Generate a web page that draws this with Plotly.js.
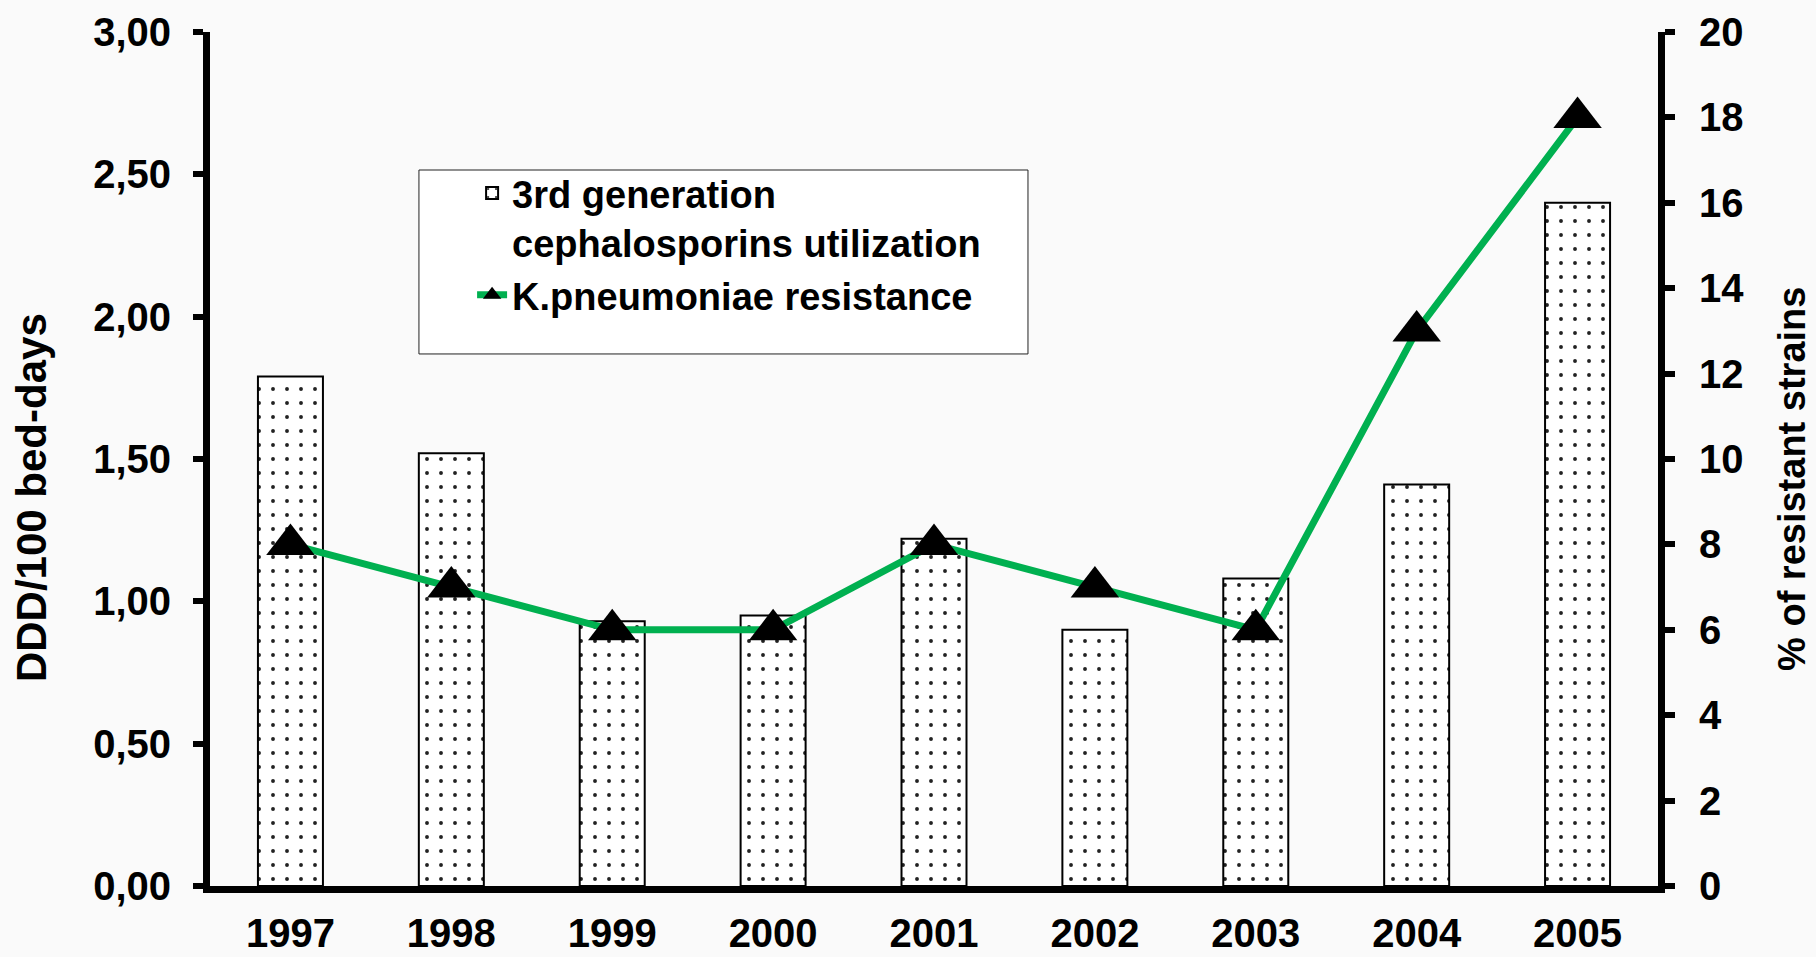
<!DOCTYPE html>
<html>
<head>
<meta charset="utf-8">
<script src="https://cdn.plot.ly/plotly-3.0.1.min.js"></script>
<style>
  html, body { margin: 0; padding: 0; background: #fafafa; }
  #chart { width: 1816px; height: 957px; }
</style>
</head>
<body>
<div id="chart"></div>
<script>
// ---- data ----
const years = ['1997', '1998', '1999', '2000', '2001', '2002', '2003', '2004', '2005'];
const utilization = [1.79, 1.52, 0.93, 0.95, 1.22, 0.90, 1.08, 1.41, 2.40]; // DDD/100 bed-days
const resistance = [8, 7, 6, 6, 8, 7, 6, 13, 18];                          // % of resistant strains
const barName = '3rd generation<br>cephalosporins utilization';
const lineName = 'K.pneumoniae resistance';
const leftTitle = 'DDD/100 bed-days';
const rightTitle = '% of resistant strains';

const FONT = 'Liberation Sans, Arial, Helvetica, sans-serif';
const GREEN = '#00B050';

const traces = [
  {
    type: 'bar',
    name: barName,
    x: years,
    y: utilization,
    xaxis: 'x',
    yaxis: 'y',
    marker: {
      color: '#ffffff',
      line: { color: '#000000', width: 2 },
      pattern: { shape: '.', fgcolor: '#222222', bgcolor: '#ffffff', size: 14, solidity: 0.06 }
    },
    hoverinfo: 'x+y'
  },
  {
    type: 'scatter',
    mode: 'lines+markers',
    name: lineName,
    x: years,
    y: resistance,
    xaxis: 'x',
    yaxis: 'y2',
    line: { color: GREEN, width: 7 },
    marker: { symbol: 'triangle-up', size: 42, color: '#000000' },
    cliponaxis: false
  }
];

const tickFont = { family: FONT, size: 40, color: '#000000', weight: 'bold' };

const layout = {
  width: 1816,
  height: 957,
  margin: { l: 210, r: 158, t: 32, b: 71, pad: 0 },
  paper_bgcolor: '#fafafa',
  plot_bgcolor: 'rgba(0,0,0,0)',
  separators: ',.',
  font: { family: FONT, color: '#000000' },
  bargap: 0.596,
  showlegend: true,
  legend: {
    x: 0.181, y: 0.848, xanchor: 'left', yanchor: 'top',
    bgcolor: 'rgba(0,0,0,0)', borderwidth: 0,
    font: { family: FONT, size: 38, color: '#000000', weight: 'bold' },
    valign: 'top',
    traceorder: 'normal'
  },
  xaxis: {
    type: 'category',
    range: [-0.5, 8.5],
    showline: true, linecolor: '#000000', linewidth: 7,
    ticks: '', showgrid: false, zeroline: false,
    tickfont: tickFont,
    ticklabelstandoff: 6
  },
  yaxis: {
    range: [0, 3], tick0: 0, dtick: 0.5, tickformat: '.2f',
    showline: true, linecolor: '#000000', linewidth: 7,
    ticks: 'outside', ticklen: 10, tickwidth: 6, tickcolor: '#000000',
    showgrid: false, zeroline: false,
    tickfont: tickFont,
    ticklabelstandoff: 14
  },
  yaxis3: {
    overlaying: 'y', side: 'left', anchor: 'x',
    range: [0, 3], tick0: 0, dtick: 0.5,
    showline: false, ticks: 'inside', ticklen: 13, tickwidth: 6, tickcolor: '#000000',
    showticklabels: false, showgrid: false, zeroline: false
  },
  yaxis2: {
    overlaying: 'y', side: 'right', anchor: 'x',
    range: [0, 20], tick0: 0, dtick: 2,
    showline: true, linecolor: '#000000', linewidth: 7,
    ticks: 'outside', ticklen: 10, tickwidth: 6, tickcolor: '#000000',
    showgrid: false, zeroline: false,
    tickfont: tickFont,
    ticklabelstandoff: 16
  },
  yaxis4: {
    overlaying: 'y', side: 'right', anchor: 'x',
    range: [0, 20], tick0: 0, dtick: 2,
    showline: false, ticks: 'inside', ticklen: 13, tickwidth: 6, tickcolor: '#000000',
    showticklabels: false, showgrid: false, zeroline: false
  },
  shapes: [
    { type: 'rect', xref: 'paper', yref: 'paper', x0: 0.1443, x1: 0.5649, y0: 0.6230, y1: 0.8384,
      fillcolor: '#ffffff', line: { color: '#222222', width: 1 }, layer: 'below' }
  ],
  annotations: [
    { text: leftTitle, xref: 'paper', yref: 'paper', x: -0.1236, y: 0.4543,
      xanchor: 'center', yanchor: 'middle', textangle: -90, showarrow: false,
      font: { family: FONT, size: 42, color: '#000000', weight: 'bold' } },
    { text: rightTitle, xref: 'paper', yref: 'paper', x: 1.0925, y: 0.4766,
      xanchor: 'center', yanchor: 'middle', textangle: -90, showarrow: false,
      font: { family: FONT, size: 38, color: '#000000', weight: 'bold' } }
  ]
};

Plotly.newPlot('chart', traces, layout, { displayModeBar: false, staticPlot: true });
</script>
</body>
</html>
